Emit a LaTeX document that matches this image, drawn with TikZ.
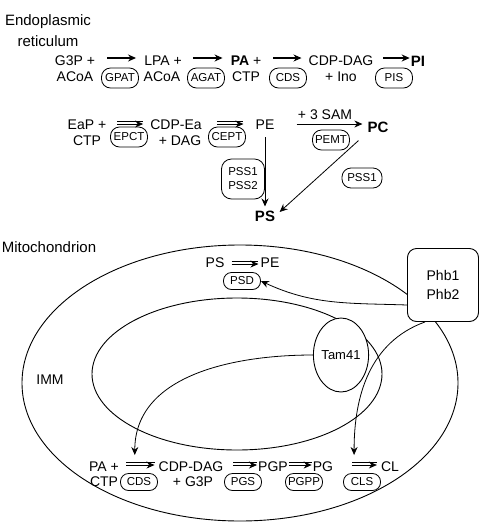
\documentclass[tikz,border=0pt]{standalone}
\usepackage{fontspec}
\setmainfont{Liberation Sans}
\usetikzlibrary{arrows.meta,positioning,calc,shapes.geometric}

\tikzset{
    lbl/.style={inner sep=0pt, font=\fontsize{14}{16}\selectfont},
    big/.style={inner sep=0pt, font=\fontsize{15}{17}\selectfont\bfseries},
    title/.style={inner sep=0pt, align=center, font=\fontsize{15}{21}\selectfont},
    enz/.style={draw, line width=0.8pt, rounded corners=9pt, minimum height=20pt, minimum width=37pt,
        inner xsep=2pt, inner ysep=1pt, font=\fontsize{11.5}{12}\selectfont},
    menz/.style={enz, rounded corners=8pt, minimum height=17pt},
    rxn/.style={-{Stealth[length=8pt,width=7pt]}, line width=1.3pt},
    rxnd/.style={-{Stealth[length=8pt,width=7pt]}, line width=0.8pt,
        preaction={draw, -, line width=0.8pt, transform canvas={yshift=2.6pt}}},
    thinarr/.style={-{Stealth[length=8pt,width=7pt]}, line width=0.8pt},
    mem/.style={line width=0.9pt}
}

\begin{document}
\begin{tikzpicture}[x=1pt, y=-1pt]

        \useasboundingbox (0,0) rectangle (480,523);

        \node[title] (ER) at (48,31) {Endoplasmic\\reticulum};

        % ER, first row
        \node[lbl] (G3P) at (75,61) {G3P +};
        \node[lbl] (ACoA1) at (75,77) {ACoA};
        \node[lbl] (LPA) at (163,61) {LPA +};
        \node[lbl] (ACoA2) at (162,77) {ACoA};
        \node[lbl] (PA) at (246,61) {\textbf{PA} +};
        \node[lbl] (CTP1) at (246,77) {CTP};
        \node[lbl] (CDPDAG1) at (341,61) {CDP-DAG};
        \node[lbl] (Ino) at (341,77) {+ Ino};
        \node[big] (PI) at (418,61) {PI};

        \foreach \lab/\x in {GPAT/120, AGAT/206, CDS/288, PIS/394}
            \node[enz] (\lab) at (\x,78) {\lab};

        \draw[rxn, shorten <=12pt, shorten >=8pt] ([yshift=3pt]G3P.east) -- ([yshift=3pt]LPA.west);
        \draw[rxn, shorten <=11pt, shorten >=8pt] ([yshift=3pt]LPA.east) -- ([yshift=3pt]PA.west);
        \draw[rxn, shorten <=12pt, shorten >=7pt] ([yshift=3pt]PA.east) -- ([yshift=3pt]CDPDAG1.west);
        \draw[rxn, shorten <=10pt, shorten >=1pt] ([yshift=3pt]CDPDAG1.east) -- ([yshift=3pt]PI.west);

        % ER, second row
        \node[lbl] (EaP) at (87,125) {EaP +};
        \node[lbl] (CTP2) at (87,141) {CTP};
        \node[lbl] (CDPEa) at (176,125) {CDP-Ea};
        \node[lbl] (DAG) at (180,141) {+ DAG};
        \node[lbl] (PE) at (265,125) {PE};
        \node[big] (PC) at (378,127) {PC};
        \node[big] (PS) at (265,216) {PS};
        \node[lbl] (SAM) at (325,115) {+ 3 SAM};

        \foreach \lab/\x in {EPCT/129, CEPT/227}
            \node[enz] (\lab) at (\x,137) {\lab};
        \node[enz] (PEMT) at (331,140) {PEMT};
        \node[enz, rounded corners=10pt, align=center, minimum width=43pt, minimum height=40pt,
            font=\fontsize{11.5}{14}\selectfont] (PSS12) at (243,179) {PSS1\\PSS2};
        \node[enz, minimum width=40pt] (PSS1) at (362,178) {PSS1};

        \draw[rxnd, shorten <=11pt, shorten >=7pt] ([yshift=1pt]EaP.east) -- ([yshift=1pt]CDPEa.west);
        \draw[rxnd, shorten <=15pt, shorten >=12pt] ([yshift=1pt]CDPEa.east) -- ([yshift=1pt]PE.west);
        \draw[thinarr, shorten <=22pt, shorten >=5pt] ([yshift=1pt]PE.east) -- ([yshift=3pt]PC.west);
        \draw[thinarr, shorten <=7pt, shorten >=4pt] (PE.south) -- (PE.south |- PS.north);
        \draw[thinarr, shorten <=12pt, shorten >=6pt] (PC.south west) -- (PS.east);

        % mitochondrion
        \node[title] (Mito) at (49,247) {Mitochondrion};
        \node[lbl] (IMM) at (50,380) {IMM};

        \draw[mem] (240,383) ellipse [x radius=218pt, y radius=138pt];
        \draw[mem] (237,374) ellipse [x radius=145pt, y radius=76pt];

        \node[draw, mem, fill=white, ellipse, minimum width=48pt, minimum height=74pt, inner sep=0pt,
            font=\fontsize{13}{15}\selectfont] (Tam41) at (341,355) {Tam41};
        \node[draw, mem, fill=white, rounded corners=9pt, minimum width=71pt, minimum height=73pt,
            align=center, font=\fontsize{14}{19}\selectfont] (Phb) at (443,285) {Phb1\\Phb2};

        \node[lbl] (mPS) at (215,263) {PS};
        \node[lbl] (mPE) at (270,263) {PE};
        \node[menz] (PSD) at (242,281) {PSD};
        \draw[rxnd, shorten <=7pt, shorten >=2pt] ([yshift=-1pt]mPS.east) -- ([yshift=-1pt]mPE.west);

        % mitochondrion, CL pathway
        \node[lbl] (mPA) at (104,467) {PA +};
        \node[lbl] (mCTP) at (104,482) {CTP};
        \node[lbl] (mCDPDAG) at (191,467) {CDP-DAG};
        \node[lbl] (mG3P) at (193,482) {+ G3P};
        \node[lbl] (PGP) at (273,467) {PGP};
        \node[lbl] (PG) at (323,467) {PG};
        \node[lbl] (CL) at (390,467) {CL};

        \foreach \lab/\name/\x in {CDS/mCDS/139, PGS/PGS/243, PGPP/PGPP/304, CLS/CLS/362}
            \node[menz] (\name) at (\x,482) {\lab};

        \draw[rxnd, shorten <=7pt, shorten >=4pt] ([yshift=2pt]mPA.east) -- coordinate[midway] (r1) ([yshift=2pt]mCDPDAG.west);
        \draw[rxnd, shorten <=10pt, shorten >=1pt] ([yshift=2pt]mCDPDAG.east) -- ([yshift=2pt]PGP.west);
        \draw[rxnd, shorten <=1pt, shorten >=1pt] ([yshift=2pt]PGP.east) -- ([yshift=2pt]PG.west);
        \draw[rxnd, shorten <=19pt, shorten >=4pt] ([yshift=2pt]PG.east) -- coordinate[midway] (r4) ([yshift=2pt]CL.west);

        \draw[thinarr] ([yshift=-20pt]Phb.west) to[out=178, in=-25] (PSD.east);
        \draw[thinarr] ([xshift=-18pt]Phb.south) to[out=200, in=90] ([xshift=-3pt, yshift=10pt]r4);
        \draw[thinarr] (Tam41.west) to[out=180, in=90] ([xshift=-4pt, yshift=10pt]r1);

\end{tikzpicture}
\end{document}
